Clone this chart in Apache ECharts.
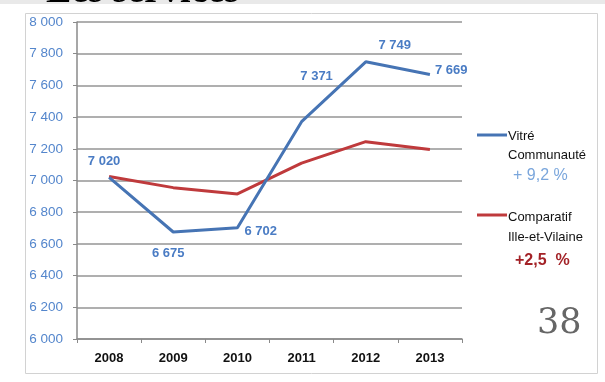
<!DOCTYPE html>
<html>
<head>
<meta charset="utf-8">
<script src="https://cdn.jsdelivr.net/npm/echarts@6/dist/echarts.min.js"></script>
<style>
  html, body { margin: 0; padding: 0; background: #fff; }
  #chart { width: 605px; height: 382px; }
</style>
</head>
<body>
<div id="chart"></div>
<script>
// Population des services : Vitré Communauté vs comparatif Ille-et-Vilaine
var years = ['2008', '2009', '2010', '2011', '2012', '2013'];
var vitreValues = [7020, 6675, 6702, 7371, 7749, 7669];
var illeValues = [7025, 6955, 6915, 7110, 7245, 7195];
var yTicks = { min: 6000, max: 8000, step: 200 };
var seriesNames = ['Vitré\nCommunauté', 'Comparatif\nIlle-et-Vilaine'];
var growthLabels = ['+ 9,2 %', '+2,5  %'];
var pageTitle = 'Les services';
var pageNumber = '38';

// Placement of each value label around its point: [position, offsetX, offsetY]
var vitreLabelPlacement = [
  ['top', -5, -4],
  ['bottom', -5, 10],
  ['right', 2, 4],
  ['top', 15, -34],
  ['top', 29, -5],
  ['right', 0, -4]
];

function fmt(v) {
  var s = String(v);
  return s.length > 3 ? s.slice(0, s.length - 3) + ' ' + s.slice(-3) : s;
}

var blue = '#4674b4';
var red = '#bf3a3c';
var labelBlue = '#4a7cc4';

var vitreData = vitreValues.map(function (v, i) {
  var p = vitreLabelPlacement[i];
  return {
    value: v,
    label: { position: p[0], offset: [p[1], p[2]] }
  };
});

var chart = echarts.init(document.getElementById('chart'), null, { renderer: 'canvas' });

chart.setOption({
  animation: false,
  backgroundColor: '#fff',
  grid: { left: 77, right: 143, top: 22, bottom: 43, containLabel: false },
  xAxis: {
    type: 'category',
    data: years,
    boundaryGap: true,
    axisLine: { lineStyle: { color: '#8a8a8a', width: 1.5 } },
    axisTick: { show: true, length: 4, inside: false, lineStyle: { color: '#8a8a8a' } },
    axisLabel: {
      margin: 13,
      color: '#111',
      fontFamily: 'Liberation Sans, Arial, sans-serif',
      fontSize: 13,
      fontWeight: 'bold'
    },
    splitLine: { show: false }
  },
  yAxis: {
    type: 'value',
    min: yTicks.min,
    max: yTicks.max,
    interval: yTicks.step,
    axisLine: { show: true, lineStyle: { color: '#8a8a8a', width: 1.5 } },
    axisTick: { show: true, length: 4, lineStyle: { color: '#8a8a8a' } },
    axisLabel: {
      margin: 14,
      color: '#5486cc',
      fontFamily: 'Liberation Sans, Arial, sans-serif',
      fontSize: 13.5,
      formatter: function (v) { return fmt(v); }
    },
    splitLine: { show: true, lineStyle: { color: '#959595', width: 1.6 } }
  },
  series: [
    {
      name: seriesNames[1],
      type: 'line',
      data: illeValues,
      symbol: 'circle',
      symbolSize: 0,
      lineStyle: { color: red, width: 3 },
      itemStyle: { color: red },
      label: { show: false },
      z: 2
    },
    {
      name: seriesNames[0],
      type: 'line',
      data: vitreData,
      symbol: 'circle',
      symbolSize: 0,
      lineStyle: { color: blue, width: 3 },
      itemStyle: { color: blue },
      label: {
        show: true,
        distance: 5,
        color: labelBlue,
        fontFamily: 'Liberation Sans, Arial, sans-serif',
        fontSize: 13,
        fontWeight: 'bold',
        formatter: function (p) { return fmt(p.value); }
      },
      z: 3
    }
  ],
  graphic: [
    // top strip and page frame
    { type: 'rect', shape: { x: 0, y: 0, width: 605, height: 4 }, style: { fill: '#e9e9e9' }, z: -2 },
    { type: 'rect', shape: { x: 25.5, y: 13.5, width: 572, height: 360 }, style: { fill: 'none', stroke: '#d2d2d2', lineWidth: 1 }, z: -1 },
    {
      type: 'text', left: 46, top: -27,
      style: { text: pageTitle, fill: '#000', font: 'bold 38px "Liberation Serif", "Times New Roman", serif' }
    },
    // legend: Vitré Communauté
    { type: 'line', shape: { x1: 477, y1: 135, x2: 507, y2: 135 }, style: { stroke: blue, lineWidth: 3 } },
    {
      type: 'text', left: 508, top: 127,
      style: { text: seriesNames[0], fill: '#111', font: '13px "Liberation Sans", Arial, sans-serif', lineHeight: 19 }
    },
    {
      type: 'text', left: 513, top: 168,
      style: { text: growthLabels[0], fill: '#7aa6dc', font: '16px "Liberation Sans", Arial, sans-serif' }
    },
    // legend: Comparatif Ille-et-Vilaine
    { type: 'line', shape: { x1: 477, y1: 215, x2: 507, y2: 215 }, style: { stroke: red, lineWidth: 3 } },
    {
      type: 'text', left: 508, top: 207,
      style: { text: seriesNames[1], fill: '#111', font: '13px "Liberation Sans", Arial, sans-serif', lineHeight: 20 }
    },
    {
      type: 'text', left: 515, top: 253,
      style: { text: growthLabels[1], fill: '#a32227', font: 'bold 16px "Liberation Sans", Arial, sans-serif' }
    },
    // page number
    {
      type: 'text', left: 537, top: 306,
      style: { text: pageNumber, fill: '#666', font: '35px "DejaVu Serif", "Liberation Serif", serif' }
    }
  ]
});
</script>
</body>
</html>
